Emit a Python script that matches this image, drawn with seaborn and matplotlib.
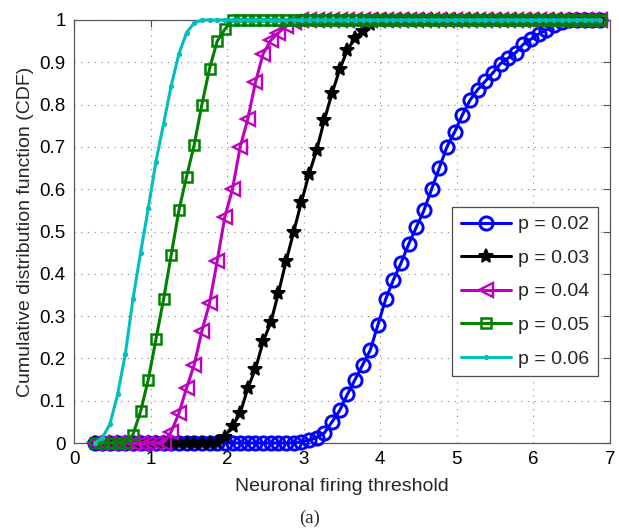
import matplotlib
matplotlib.use("Agg")
import matplotlib.pyplot as plt
import seaborn as sns

# Threshold grid shared by all curves
threshold = [
    0.27, 0.37, 0.47, 0.57, 0.67, 0.77, 0.87, 0.97, 1.07, 1.17,
    1.27, 1.37, 1.47, 1.57, 1.67, 1.77, 1.87, 1.97, 2.07, 2.17,
    2.27, 2.37, 2.47, 2.57, 2.67, 2.77, 2.87, 2.97, 3.07, 3.17,
    3.27, 3.37, 3.47, 3.57, 3.67, 3.77, 3.87, 3.97, 4.07, 4.17,
    4.27, 4.37, 4.47, 4.57, 4.67, 4.77, 4.87, 4.97, 5.07, 5.17,
    5.27, 5.37, 5.47, 5.57, 5.67, 5.77, 5.87, 5.97, 6.07, 6.17,
    6.27, 6.37, 6.47, 6.57, 6.67, 6.77, 6.87,
]

cdf_p002 = [
    0.0, 0.0, 0.0, 0.0, 0.0, 0.0, 0.0, 0.0, 0.0, 0.0,
    0.0, 0.0, 0.0, 0.0, 0.0, 0.0, 0.0, 0.0, 0.0, 0.0,
    0.0, 0.0, 0.0, 0.0, 0.0, 0.0, 0.0, 0.003, 0.007, 0.013,
    0.024, 0.05, 0.077, 0.115, 0.15, 0.185, 0.22, 0.28, 0.34, 0.385,
    0.425, 0.47, 0.51, 0.55, 0.60, 0.65, 0.70, 0.735, 0.775, 0.81,
    0.835, 0.855, 0.875, 0.897, 0.91, 0.923, 0.943, 0.955, 0.967, 0.977,
    0.988, 0.995, 1.0, 1.0, 1.0, 1.0, 1.0,
]

cdf_p003 = [
    0.0, 0.0, 0.0, 0.0, 0.0, 0.0, 0.0, 0.0, 0.0, 0.0,
    0.0, 0.0, 0.0, 0.0, 0.0, 0.0, 0.003, 0.015, 0.04, 0.07,
    0.13, 0.175, 0.24, 0.285, 0.355, 0.43, 0.50, 0.57, 0.636, 0.693,
    0.764, 0.827, 0.883, 0.929, 0.957, 0.975, 0.99, 1.0, 1.0, 1.0,
    1.0, 1.0, 1.0, 1.0, 1.0, 1.0, 1.0, 1.0, 1.0, 1.0,
    1.0, 1.0, 1.0, 1.0, 1.0, 1.0, 1.0, 1.0, 1.0, 1.0,
    1.0, 1.0, 1.0, 1.0, 1.0, 1.0, 1.0,
]

cdf_p004 = [
    0.0, 0.0, 0.0, 0.0, 0.0, 0.0, 0.0, 0.0, 0.0, 0.0,
    0.027, 0.07, 0.13, 0.185, 0.265, 0.33, 0.43, 0.535, 0.60, 0.70,
    0.766, 0.853, 0.92, 0.952, 0.97, 0.985, 0.995, 1.0, 1.0, 1.0,
    1.0, 1.0, 1.0, 1.0, 1.0, 1.0, 1.0, 1.0, 1.0, 1.0,
    1.0, 1.0, 1.0, 1.0, 1.0, 1.0, 1.0, 1.0, 1.0, 1.0,
    1.0, 1.0, 1.0, 1.0, 1.0, 1.0, 1.0, 1.0, 1.0, 1.0,
    1.0, 1.0, 1.0, 1.0, 1.0, 1.0, 1.0,
]

cdf_p005 = [
    0.0, 0.0, 0.0, 0.0, 0.0, 0.02, 0.075, 0.15, 0.245, 0.34,
    0.445, 0.55, 0.63, 0.705, 0.80, 0.885, 0.95, 0.978, 1.0, 1.0,
    1.0, 1.0, 1.0, 1.0, 1.0, 1.0, 1.0, 1.0, 1.0, 1.0,
    1.0, 1.0, 1.0, 1.0, 1.0, 1.0, 1.0, 1.0, 1.0, 1.0,
    1.0, 1.0, 1.0, 1.0, 1.0, 1.0, 1.0, 1.0, 1.0, 1.0,
    1.0, 1.0, 1.0, 1.0, 1.0, 1.0, 1.0, 1.0, 1.0, 1.0,
    1.0, 1.0, 1.0, 1.0, 1.0, 1.0, 1.0,
]

cdf_p006 = [
    0.0, 0.012, 0.045, 0.115, 0.21, 0.34, 0.45, 0.555, 0.665, 0.755,
    0.845, 0.92, 0.97, 0.993, 1.0, 1.0, 1.0, 1.0, 1.0, 1.0,
    1.0, 1.0, 1.0, 1.0, 1.0, 1.0, 1.0, 1.0, 1.0, 1.0,
    1.0, 1.0, 1.0, 1.0, 1.0, 1.0, 1.0, 1.0, 1.0, 1.0,
    1.0, 1.0, 1.0, 1.0, 1.0, 1.0, 1.0, 1.0, 1.0, 1.0,
    1.0, 1.0, 1.0, 1.0, 1.0, 1.0, 1.0, 1.0, 1.0, 1.0,
    1.0, 1.0, 1.0, 1.0, 1.0, 1.0, 1.0,
]

labels = ["p = 0.02", "p = 0.03", "p = 0.04", "p = 0.05", "p = 0.06"]
x_ticks = [0, 1, 2, 3, 4, 5, 6, 7]
y_ticks = [0.0, 0.1, 0.2, 0.3, 0.4, 0.5, 0.6, 0.7, 0.8, 0.9, 1.0]
y_tick_labels = ["0", "0.1", "0.2", "0.3", "0.4", "0.5", "0.6", "0.7", "0.8", "0.9", "1"]

sns.set_style("white")
plt.rcParams["font.family"] = ["Liberation Sans", "DejaVu Sans"]

fig = plt.figure(figsize=(6.19, 5.31), dpi=100)
ax = fig.add_axes([74 / 619, 1 - 443 / 531, 536 / 619, 423 / 531])

# (values, colour, marker, size, face, edge width)
styles = [
    (cdf_p002, "#0000FF", "o", 9.5, "none", 2.1),
    (cdf_p003, "#000000", "*", 10.0, "#000000", 1.4),
    (cdf_p004, "#C000C0", "<", 9.5, "none", 1.7),
    (cdf_p005, "#008000", "s", 7.5, "none", 1.8),
    (cdf_p006, "#00BFBF", "o", 2.8, "#00BFBF", 1.0),
]

for lab, (vals, col, mk, ms, mfc, mew) in zip(labels, styles):
    sns.lineplot(
        x=threshold, y=vals, ax=ax, color=col, marker=mk, markersize=ms,
        markerfacecolor=mfc, markeredgecolor=col, markeredgewidth=mew,
        linewidth=2.2, label=lab, sort=False, errorbar=None, clip_on=False,
        zorder=3,
    )

ax.set_xlim(0, 7)
ax.set_ylim(0, 1)
ax.set_xticks(x_ticks)
ax.set_xticklabels([str(t) for t in x_ticks])
ax.set_yticks(y_ticks)
ax.set_yticklabels(y_tick_labels)
ax.tick_params(direction="in", top=True, right=True, length=5, width=0.8,
               labelsize=13.5, pad=6, color="0.3", labelcolor="black")
for sp in ax.spines.values():
    sp.set_color("0.35")
    sp.set_linewidth(0.9)

ax.grid(True, linestyle=(0, (1, 5)), color="0.5", linewidth=0.8)
ax.set_axisbelow(True)

ax.set_xlabel("Neuronal firing threshold", fontsize=14, labelpad=7)
ax.set_ylabel("Cumulative distribution function (CDF)", fontsize=14, labelpad=4)

leg = ax.legend(loc="upper right", bbox_to_anchor=(0.9776, 0.558), fontsize=14,
                frameon=True, fancybox=False, edgecolor="0.3", framealpha=1,
                handlelength=2.6, handletextpad=0.35, labelspacing=0.82,
                borderpad=0.45, borderaxespad=0, numpoints=1)
leg.get_frame().set_linewidth(0.9)

fig.text(310 / 619, 1 - 518 / 531, "(a)", family="Liberation Serif",
         fontsize=13.5, ha="center", va="center")

fig.savefig("out.png", dpi=100)
